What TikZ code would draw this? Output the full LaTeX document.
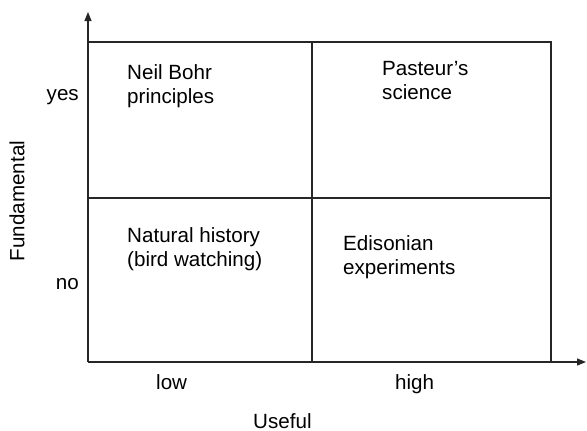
\documentclass[tikz,border=0pt]{standalone}
\usepackage{fontspec}
\setmainfont{Liberation Sans}
\usetikzlibrary{arrows.meta}
\begin{document}
\begin{tikzpicture}[x=1pt,y=-1pt,
  lbl/.style={font=\fontsize{20.6}{23.5}\selectfont, inner sep=0pt},
  cell/.style={lbl, align=left, anchor=base west},
  ln/.style={line width=1.2pt, black!85},
  axis/.style={ln, -{Triangle[length=9pt,width=7pt]}}]
\useasboundingbox (0,0) rectangle (587,431);
\coordinate (o) at (88,362);
\coordinate (ytip) at (88,12);
\coordinate (xtip) at (586,362);
\coordinate (tl) at (88,42);
\coordinate (tr) at (551,42);
\coordinate (br) at (551,362);
\coordinate (tm) at (312,42);
\coordinate (bm) at (312,362);
\coordinate (ml) at (88,198);
\coordinate (mr) at (551,198);
\draw[axis] (o) -- (ytip);
\draw[axis] (o) -- (xtip);
\draw[ln] (tl) -- (tr) -- (br);
\draw[ln] (tm) -- (bm);
\draw[ln] (ml) -- (mr);
\node[cell] (bohr) at (127,103) {Neil Bohr\\principles};
\node[cell] (pasteur) at (382,99) {Pasteur’s\\science};
\node[cell] (natural) at (127,266) {Natural history\\(bird watching)};
\node[cell] (edison) at (343,274) {Edisonian\\experiments};
\node[lbl, anchor=base east] (yes) at (79,100) {yes};
\node[lbl, anchor=base east] (no) at (79,289) {no};
\node[lbl, rotate=90] (fund) at (17,201) {Fundamental};
\node[lbl, anchor=base west] (low) at (156,389) {low};
\node[lbl, anchor=base west] (high) at (395,389) {high};
\node[lbl, anchor=base west] (useful) at (253,428) {Useful};
\end{tikzpicture}
\end{document}
